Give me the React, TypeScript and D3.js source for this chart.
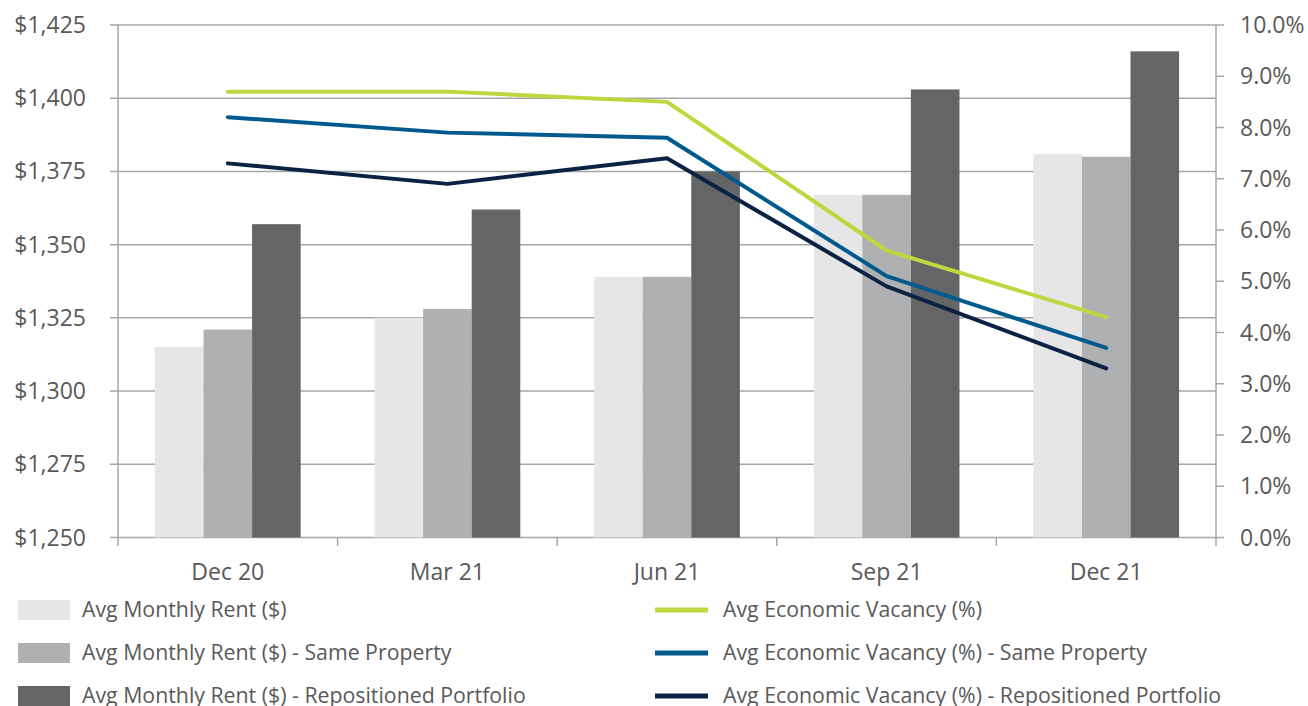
import React from "react";
import * as d3 from "d3";

const categories = ["Dec 20", "Mar 21", "Jun 21", "Sep 21", "Dec 21"];
const rentAll = [1315, 1325, 1339, 1367, 1381];
const rentSame = [1321, 1328, 1339, 1367, 1380];
const rentRepo = [1357, 1362, 1375, 1403, 1416];
const vacAll = [8.7, 8.7, 8.5, 5.6, 4.3];
const vacSame = [8.2, 7.9, 7.8, 5.1, 3.7];
const vacRepo = [7.3, 6.9, 7.4, 4.9, 3.3];
const leftTicks = [1250, 1275, 1300, 1325, 1350, 1375, 1400, 1425];
const rightTicks = [0, 1, 2, 3, 4, 5, 6, 7, 8, 9, 10];

const barSeries = [
  { name: "Avg Monthly Rent ($)", values: rentAll, color: "#E6E6E6" },
  { name: "Avg Monthly Rent ($) - Same Property", values: rentSame, color: "#AFB0B2" },
  { name: "Avg Monthly Rent ($) - Repositioned Portfolio", values: rentRepo, color: "#646567" },
];
const lineSeries = [
  { name: "Avg Economic Vacancy (%)", values: vacAll, color: "#BFD63F" },
  { name: "Avg Economic Vacancy (%) - Same Property", values: vacSame, color: "#005A8E" },
  { name: "Avg Economic Vacancy (%) - Repositioned Portfolio", values: vacRepo, color: "#0A2345" },
];

export default function App() {
  const W = 1308, H = 706;
  const left = 118, right = 1216, top = 25, bottom = 537.5;
  const font = "'Open Sans', sans-serif";
  const textColor = "#595959";
  const gridColor = "#A6A6A6";
  const fsAxis = 23;
  const fsLegend = 21.3;

  const x = d3.scaleBand<string>().domain(categories).range([left, right]).paddingInner(0).paddingOuter(0);
  const inner = d3.scaleBand<number>().domain([0, 1, 2]).range([0, x.bandwidth()]).paddingInner(0).paddingOuter(0.76);
  const yL = d3.scaleLinear().domain([1250, 1425]).range([bottom, top]);
  const yR = d3.scaleLinear().domain([0, 10]).range([bottom, top]);
  const fmtL = (v: number) => "$" + d3.format(",")(v);
  const fmtR = (v: number) => d3.format(".1f")(v) + "%";

  const line = d3
    .line<number>()
    .x((_, i) => (x(categories[i]) as number) + x.bandwidth() / 2)
    .y((v) => yR(v));

  const boundaries = d3.range(categories.length + 1).map((i) => left + i * x.bandwidth());

  return (
    <svg width={W} height={H} style={{ position: "absolute", left: 0, top: 0, background: "#fff" }} fontFamily={font}>
      {leftTicks.map((t) => (
        <line key={"g" + t} x1={110} x2={right} y1={yL(t)} y2={yL(t)} stroke={gridColor} strokeWidth={1.5} />
      ))}
      {barSeries.map((s, si) =>
        s.values.map((v, i) => (
          <rect
            key={s.name + i}
            x={(x(categories[i]) as number) + (inner(si) as number)}
            y={yL(v)}
            width={inner.bandwidth()}
            height={yL(1250) - yL(v)}
            fill={s.color}
          />
        ))
      )}
      <line x1={left} x2={left} y1={top} y2={546} stroke={gridColor} strokeWidth={1.5} />
      <line x1={right} x2={right} y1={top} y2={546} stroke={gridColor} strokeWidth={1.5} />
      {boundaries.slice(1, -1).map((b) => (
        <line key={"b" + b} x1={b} x2={b} y1={bottom} y2={546} stroke={gridColor} strokeWidth={1.5} />
      ))}
      {rightTicks.map((t) => (
        <line key={"rt" + t} x1={right} x2={1224} y1={yR(t)} y2={yR(t)} stroke={gridColor} strokeWidth={1.5} />
      ))}
      {lineSeries.map((s) => (
        <path key={s.name} d={line(s.values) || ""} fill="none" stroke={s.color} strokeWidth={4} strokeLinecap="round" strokeLinejoin="round" />
      ))}
      {leftTicks.map((t) => (
        <text key={"lt" + t} x={86} y={yL(t)} dy="0.35em" textAnchor="end" fontSize={fsAxis} fill={textColor}>
          {fmtL(t)}
        </text>
      ))}
      {rightTicks.map((t) => (
        <text key={"rl" + t} x={1240} y={yR(t)} dy="0.35em" textAnchor="start" fontSize={fsAxis} fill={textColor}>
          {fmtR(t)}
        </text>
      ))}
      {categories.map((c) => (
        <text key={c} x={(x(c) as number) + x.bandwidth() / 2} y={572} dy="0.35em" textAnchor="middle" fontSize={fsAxis} fill={textColor}>
          {c}
        </text>
      ))}
      {barSeries.map((s, i) => (
        <g key={"lb" + i} transform={`translate(0, ${610 + i * 43})`}>
          <rect x={18} y={-10} width={52} height={20} fill={s.color} />
          <text x={82} y={0} dy="0.35em" fontSize={fsLegend} fill={textColor}>
            {s.name}
          </text>
        </g>
      ))}
      {lineSeries.map((s, i) => (
        <g key={"ll" + i} transform={`translate(0, ${610 + i * 43})`}>
          <line x1={655} x2={708} y1={0} y2={0} stroke={s.color} strokeWidth={5} />
          <text x={723} y={0} dy="0.35em" fontSize={fsLegend} fill={textColor}>
            {s.name}
          </text>
        </g>
      ))}
    </svg>
  );
}
